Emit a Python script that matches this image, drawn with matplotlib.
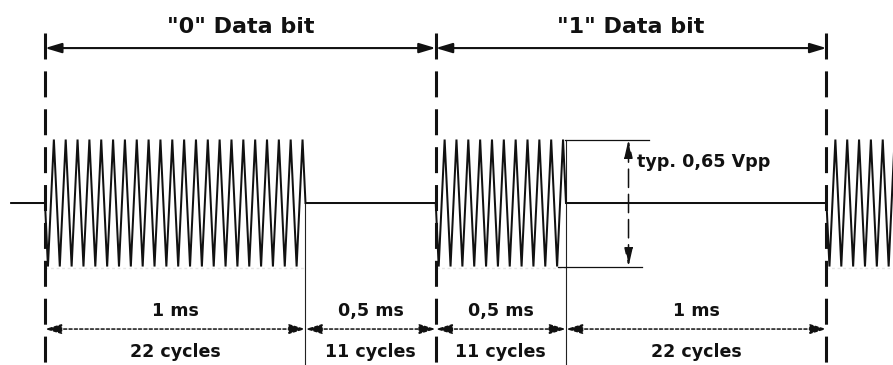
import matplotlib
matplotlib.use('Agg')
import matplotlib.pyplot as plt
import numpy as np

# timing data (ms) and signal values
bit_labels = ['"0" Data bit', '"1" Data bit']
bit_edges = [0.0, 1.5, 3.0]
burst_starts = [0.0, 1.5, 3.0]
burst_cycles = [22, 11, 22]
freq_khz = 22.0            # cycles per ms
amp_vpp = 0.65
seg_edges = [0.0, 1.0, 1.5, 2.0, 3.0]
seg_time = ['1 ms', '0,5 ms', '0,5 ms', '1 ms']
seg_cycles = ['22 cycles', '11 cycles', '11 cycles', '22 cycles']
vpp_label = 'typ. 0,65 Vpp'

plt.rcParams['font.family'] = ['DejaVu Sans']
plt.rcParams['font.weight'] = 'bold'

fig = plt.figure(figsize=(8.93, 3.65), dpi=100)
ax = fig.add_axes([0, 0, 1, 1])
ax.set_xlim(-0.1727, 3.2553)
ax.set_ylim(-0.829, 1.039)
ax.axis('off')

a = amp_vpp / 2

# waveform: flat line with triangle bursts
t_all = [-0.13]
v_all = [0.0]
for start, n in zip(burst_starts, burst_cycles):
    k = np.arange(0, 4 * n + 1)
    tt = start + k / (4 * freq_khz)
    vv = np.zeros(len(k))
    odd = k % 2 == 1
    vv[odd] = np.where(((k[odd] - 1) // 2) % 2 == 0, -a, a)
    t_all.extend(tt)
    v_all.extend(vv)
ax.plot(t_all, v_all, color='#111111', lw=1.45, solid_joinstyle='miter', zorder=3)

# faint line at the burst floor
for start, n in zip(burst_starts, burst_cycles):
    ax.plot([start, start + n / freq_khz], [-a - 0.01, -a - 0.01], color='#e6e6e6',
            lw=1.0, ls=(0, (2, 2)), zorder=1)

# dashed bit boundaries
for x in bit_edges:
    ax.plot([x, x], [0.870, -0.829], color='#111111', lw=2.2,
            dashes=(8.5, 3.9), zorder=2)

# thin separators between burst and pause
ax.plot([seg_edges[1]] * 2, [0, -0.829], color='#222222', lw=0.8)
ax.plot([seg_edges[3]] * 2, [a, -0.829], color='#222222', lw=0.8)

# top arrows and titles
for i, lab in enumerate(bit_labels):
    x0, x1 = bit_edges[i], bit_edges[i + 1]
    ax.annotate('', xy=(x1, 0.793), xytext=(x0, 0.793),
                arrowprops=dict(arrowstyle='<|-|>,head_length=1.0,head_width=0.3',
                                mutation_scale=10, lw=1.5, color='#111111',
                                shrinkA=0, shrinkB=0))
    ax.text((x0 + x1) / 2, 0.870, lab, ha='center', va='baseline',
            fontsize=16, fontweight='bold', color='#111111')

# bottom dotted arrows with labels
for i in range(len(seg_time)):
    x0, x1 = seg_edges[i], seg_edges[i + 1]
    ax.annotate('', xy=(x1, -0.645), xytext=(x0, -0.645),
                arrowprops=dict(arrowstyle='<|-|>,head_length=1.0,head_width=0.3',
                                mutation_scale=10, lw=1.1, ls=(0, (2, 1.5)),
                                color='#111111', shrinkA=0, shrinkB=0))
    xm = (x0 + x1) / 2
    ax.text(xm, -0.579, seg_time[i], ha='center', va='baseline',
            fontsize=12.6, fontweight='bold', color='#111111')
    ax.text(xm, -0.788, seg_cycles[i], ha='center', va='baseline',
            fontsize=12.6, fontweight='bold', color='#111111')

# peak-to-peak marker
ax.plot([1.996, 2.319], [a, a], color='#111111', lw=0.9)
ax.plot([1.969, 2.292], [-a, -a], color='#111111', lw=0.9)
ax.annotate('', xy=(2.24, a), xytext=(2.24, -a),
            arrowprops=dict(arrowstyle='<|-|>,head_length=1.1,head_width=0.25',
                            mutation_scale=10, lw=1.1, ls=(0, (12, 4.5)),
                            color='#111111', shrinkA=0, shrinkB=0))
ax.text(2.273, 0.186, vpp_label, ha='left', va='baseline',
        fontsize=12.6, fontweight='bold', color='#111111')

fig.savefig('out.png', dpi=100)
